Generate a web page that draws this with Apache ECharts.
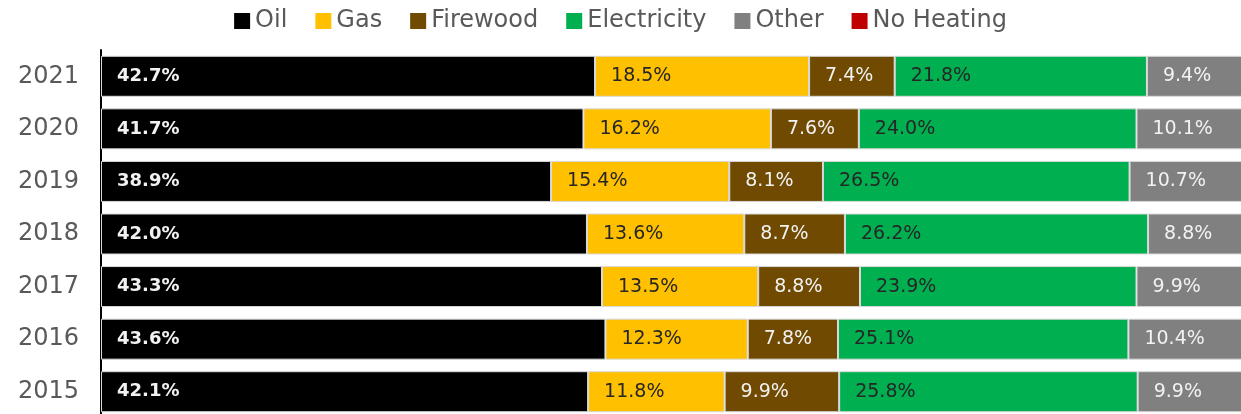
<!DOCTYPE html>
<html>
<head>
<meta charset="utf-8">
<script src="https://cdn.jsdelivr.net/npm/echarts@6/dist/echarts.min.js"></script>
<style>
  html, body { margin: 0; padding: 0; background: #fff; }
  #heating { width: 1241px; height: 414px; }
</style>
</head>
<body>
<div id="heating"></div>
<script>
var years = ['2015', '2016', '2017', '2018', '2019', '2020', '2021'];
var legend_data = ['Oil', 'Gas', 'Firewood', 'Electricity', 'Other', 'No Heating'];

var oil = [42.1, 43.6, 43.3, 42.0, 38.9, 41.7, 42.7];
var gas = [11.8, 12.3, 13.5, 13.6, 15.4, 16.2, 18.5];
var firewood = [9.9, 7.8, 8.8, 8.7, 8.1, 7.6, 7.4];
var electricity = [25.8, 25.1, 23.9, 26.2, 26.5, 24.0, 21.8];
var other = [9.9, 10.4, 9.9, 8.8, 10.7, 10.1, 9.4];
// off the right edge in the picture, guessed
var noHeating = [0.5, 0.8, 0.6, 0.7, 0.4, 0.4, 0.2];

var colorListArray = ['#000000', '#FFC000', '#6F4A00', '#00B050', '#808080', '#C00000'];
var labelColors = ['#f2f2f2', '#262626', '#f2f2f2', '#262626', '#f2f2f2', '#f2f2f2'];
var seriesValues = [oil, gas, firewood, electricity, other, noHeating];

var myChart = echarts.init(document.getElementById('heating'));

var seriesData = [];
for (var i = 0; i < legend_data.length; ++i) {
  seriesData.push({
    name: legend_data[i],
    type: 'bar',
    stack: 'all',
    barWidth: 41,
    data: seriesValues[i],
    itemStyle: {
      color: colorListArray[i],
      borderColor: '#d9d9d9',
      borderWidth: 1
    },
    label: {
      show: i < 5,
      position: 'insideLeft',
      distance: 16,
      color: labelColors[i],
      fontFamily: 'DejaVu Sans',
      fontSize: i == 0 ? 18 : 19,
      fontWeight: i == 0 ? 'bold' : 'normal',
      formatter: function(params) {
        return params.value.toFixed(1) + '%';
      }
    }
  });
}

var option = {
  animation: false,
  legend: {
    data: legend_data,
    left: 'center',
    top: 4,
    icon: 'rect',
    itemWidth: 16,
    itemHeight: 16,
    itemGap: 28,
    itemStyle: { borderWidth: 0 },
    textStyle: {
      color: '#595959',
      fontFamily: 'DejaVu Sans',
      fontSize: 24
    }
  },
  grid: {
    left: 101,
    top: 50,
    width: 1157,
    height: 368,
    outerBoundsMode: 'none',
    containLabel: false
  },
  xAxis: {
    type: 'value',
    min: 0,
    max: 100,
    show: false
  },
  yAxis: {
    type: 'category',
    data: years,
    axisLine: { show: true, lineStyle: { color: '#000', width: 2 } },
    axisTick: { show: false },
    axisLabel: {
      color: '#595959',
      fontFamily: 'DejaVu Sans',
      fontSize: 24,
      margin: 22
    }
  },
  series: seriesData
};

myChart.setOption(option);
</script>
</body>
</html>
